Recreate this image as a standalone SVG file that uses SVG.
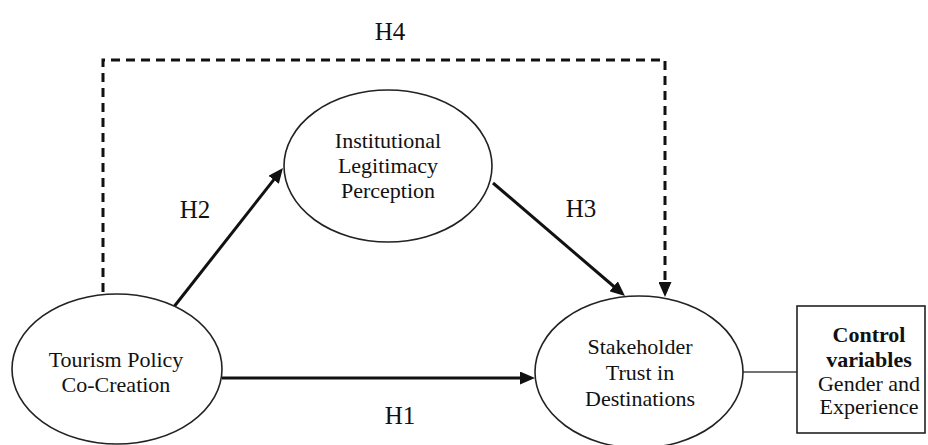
<svg xmlns="http://www.w3.org/2000/svg" width="928" height="445" viewBox="0 0 928 445">
  <style>
    .node ellipse, .node rect { fill: #ffffff; stroke: #222; stroke-width: 1.6; }
    text { font-family: "Liberation Serif", "Times New Roman", serif; fill: #111; text-anchor: middle; }
    .t { font-size: 22px; }
    .b { font-size: 22px; font-weight: bold; }
    .h { font-size: 25px; }
    .arrow { stroke: #111; stroke-width: 3; fill: none; }
    .dash { stroke: #111; stroke-width: 3; fill: none; stroke-dasharray: 9 6; }
    .thin { stroke: #444; stroke-width: 1.3; fill: none; }
  </style>
  <defs>
    <marker id="ah" markerUnits="userSpaceOnUse" markerWidth="15" markerHeight="13" refX="5" refY="6.5" orient="auto" viewBox="0 0 15 13">
      <path d="M0,0 L15,6.5 L0,13 z" fill="#111"/>
    </marker>
  </defs>
  <rect width="928" height="445" fill="#ffffff"/>

  <g id="connectors">
    <path class="dash" d="M103,292 V60 H665 V287" marker-end="url(#ah)"/>
    <line class="arrow" x1="173" y1="308" x2="276.8" y2="175.9" marker-end="url(#ah)"/>
    <line class="arrow" x1="493" y1="183" x2="617.4" y2="289.5" marker-end="url(#ah)"/>
    <line class="arrow" x1="222" y1="378" x2="525" y2="378" marker-end="url(#ah)"/>
    <line class="thin" x1="743" y1="372" x2="797" y2="372"/>
  </g>

  <g id="labels">
    <text class="h" x="390" y="40">H4</text>
    <text class="h" x="195" y="218">H2</text>
    <text class="h" x="581" y="217">H3</text>
    <text class="h" x="400" y="424">H1</text>
  </g>

  <g id="tourism" class="node">
    <ellipse cx="117" cy="369" rx="105" ry="75"/>
    <text class="t" x="116" y="367">Tourism Policy</text>
    <text class="t" x="116" y="392">Co-Creation</text>
  </g>

  <g id="institutional" class="node">
    <ellipse cx="388" cy="166" rx="104" ry="76"/>
    <text class="t" x="388" y="148">Institutional</text>
    <text class="t" x="388" y="173">Legitimacy</text>
    <text class="t" x="388" y="198">Perception</text>
  </g>

  <g id="stakeholder" class="node">
    <ellipse cx="639" cy="372" rx="104" ry="76"/>
    <text class="t" x="640" y="354">Stakeholder</text>
    <text class="t" x="640" y="380">Trust in</text>
    <text class="t" x="640" y="406">Destinations</text>
  </g>

  <g id="control" class="node">
    <rect x="797" y="306" width="128" height="127"/>
    <text class="b" x="869" y="342">Control</text>
    <text class="b" x="869" y="367">variables</text>
    <text class="t" x="869" y="391">Gender and</text>
    <text class="t" x="869" y="414">Experience</text>
  </g>
</svg>
